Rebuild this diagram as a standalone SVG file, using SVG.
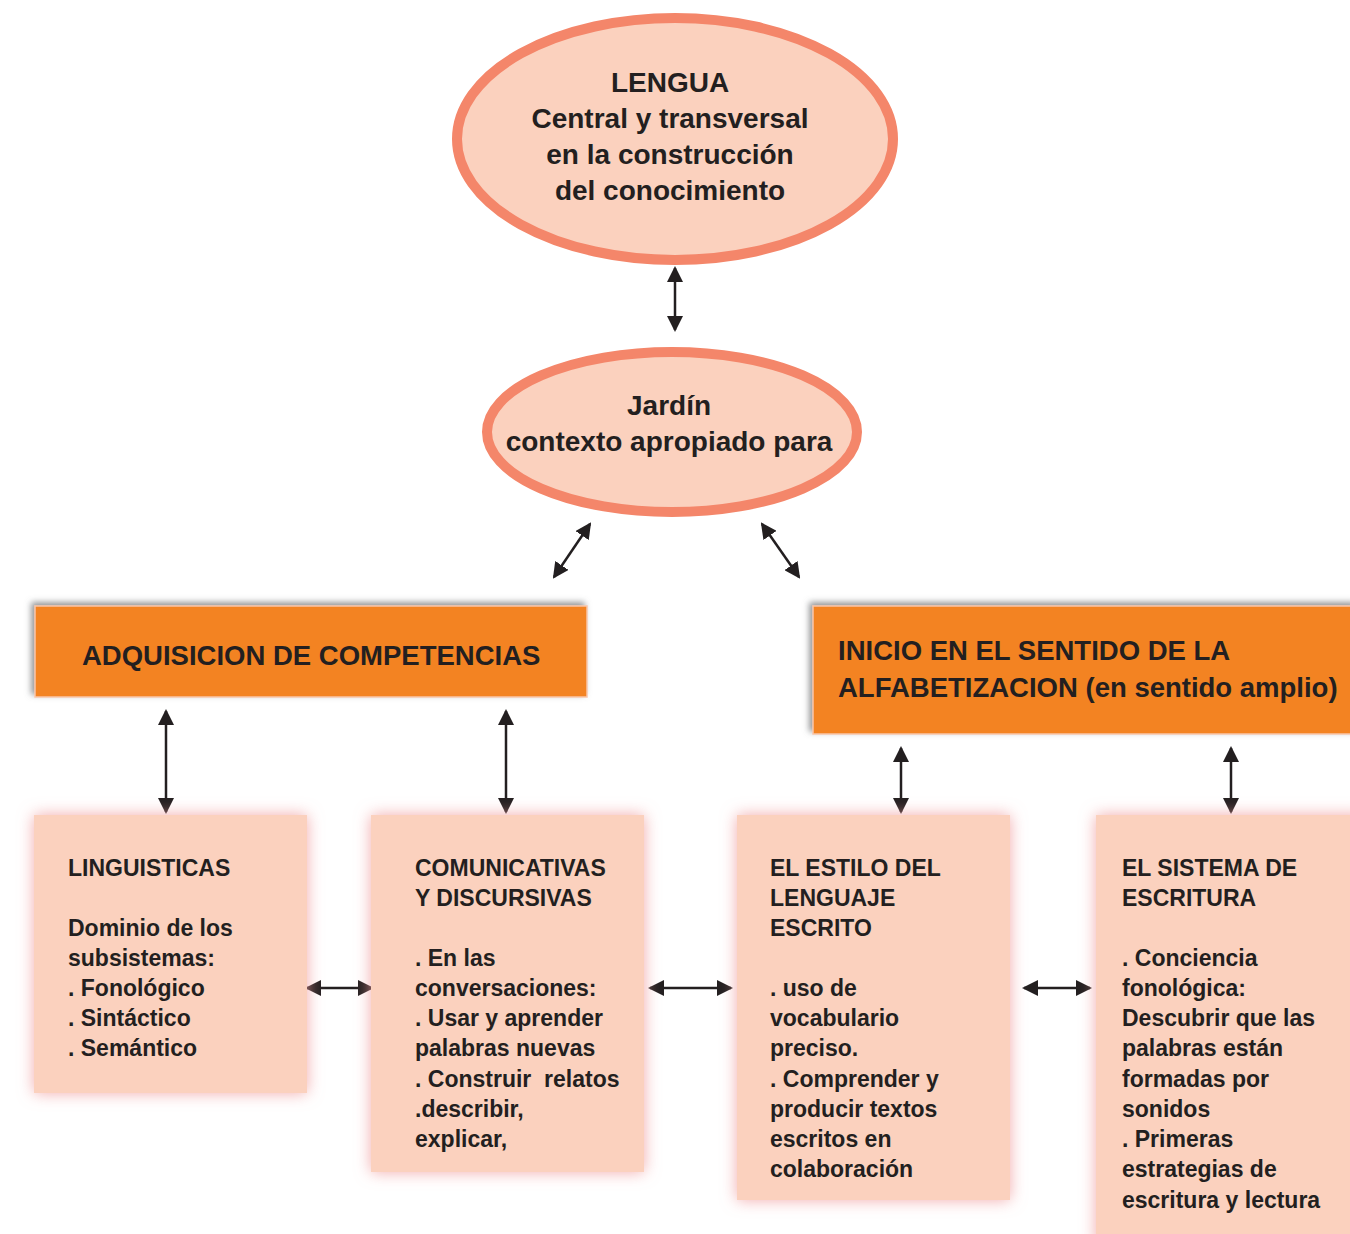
<svg xmlns="http://www.w3.org/2000/svg" width="1350" height="1234" viewBox="0 0 1350 1234">
<defs>
<style>
text{font-family:"Liberation Sans",Arial,sans-serif;font-weight:bold;fill:#231f20}
.ell{fill:#fbd1be;stroke:#f4866a;stroke-width:10}
.et{font-size:28px;text-anchor:middle}
.ob{fill:#f38322;stroke:#f9c6aa;stroke-width:1.5;filter:url(#gshadow)}
.obt{font-size:27.5px}
.pb{fill:#fbd1be;filter:url(#pglow)}
.pt{font-size:23px}
.con line{stroke:#231f20;stroke-width:2.5;marker-start:url(#ah);marker-end:url(#ah)}
</style>
<marker id="ah" viewBox="0 0 16 16" refX="14" refY="8" markerWidth="16" markerHeight="16" markerUnits="userSpaceOnUse" orient="auto-start-reverse">
<path d="M0,0 L16,8 L0,16 Z" fill="#231f20"/>
</marker>
<filter id="gshadow" x="-10%" y="-30%" width="120%" height="160%">
<feDropShadow dx="-3" dy="-3" stdDeviation="3" flood-color="#6d6e71" flood-opacity="0.75"/>
</filter>
<filter id="pglow" x="-20%" y="-20%" width="140%" height="140%">
<feDropShadow dx="0" dy="0" stdDeviation="8" flood-color="#f09a9c" flood-opacity="0.85"/>
</filter>
</defs>
<rect width="1350" height="1234" fill="#ffffff"/>

<g class="con">
<line x1="675" y1="268" x2="675" y2="330"/>
<line x1="590" y1="524" x2="554" y2="577"/>
<line x1="762" y1="524" x2="799" y2="577"/>
<line x1="166" y1="711" x2="166" y2="812"/>
<line x1="506" y1="711" x2="506" y2="812"/>
<line x1="901" y1="748" x2="901" y2="812"/>
<line x1="1231" y1="748" x2="1231" y2="812"/>
<line x1="307" y1="988" x2="372" y2="988"/>
<line x1="650" y1="988" x2="731" y2="988"/>
<line x1="1024" y1="988" x2="1090" y2="988"/>
</g>

<g id="lengua">
<ellipse class="ell" cx="675" cy="139" rx="218" ry="121"/>
<text class="et" x="670" y="92">LENGUA</text>
<text class="et" x="670" y="128">Central y transversal</text>
<text class="et" x="670" y="164">en la construcción</text>
<text class="et" x="670" y="200">del conocimiento</text>
</g>

<g id="jardin">
<ellipse class="ell" cx="672" cy="432" rx="185" ry="80"/>
<text class="et" x="669" y="415">Jardín</text>
<text class="et" x="669" y="451">contexto apropiado para</text>
</g>

<g id="adquisicion">
<rect class="ob" x="35" y="606" width="552" height="91"/>
<text class="obt" x="82" y="665">ADQUISICION DE COMPETENCIAS</text>
</g>

<g id="inicio">
<rect class="ob" x="813" y="606" width="545" height="128"/>
<text class="obt" x="838" y="660">INICIO EN EL SENTIDO DE LA</text>
<text class="obt" x="838" y="697">ALFABETIZACION (en sentido amplio)</text>
</g>

<g id="linguisticas">
<rect class="pb" x="34" y="815" width="273" height="278"/>
<text class="pt" x="68" y="876">LINGUISTICAS</text>
<text class="pt" x="68" y="936">Dominio de los</text>
<text class="pt" x="68" y="966">subsistemas:</text>
<text class="pt" x="68" y="996">. Fonológico</text>
<text class="pt" x="68" y="1026">. Sintáctico</text>
<text class="pt" x="68" y="1056">. Semántico</text>
</g>

<g id="comunicativas">
<rect class="pb" x="371" y="815" width="273" height="357"/>
<text class="pt" x="415" y="876">COMUNICATIVAS</text>
<text class="pt" x="415" y="906">Y DISCURSIVAS</text>
<text class="pt" x="415" y="966">. En las</text>
<text class="pt" x="415" y="996">conversaciones:</text>
<text class="pt" x="415" y="1026">. Usar y aprender</text>
<text class="pt" x="415" y="1056">palabras nuevas</text>
<text class="pt" x="415" y="1087" xml:space="preserve">. Construir  relatos</text>
<text class="pt" x="415" y="1117">.describir,</text>
<text class="pt" x="415" y="1147">explicar,</text>
</g>

<g id="estilo">
<rect class="pb" x="737" y="815" width="273" height="385"/>
<text class="pt" x="770" y="876">EL ESTILO DEL</text>
<text class="pt" x="770" y="906">LENGUAJE</text>
<text class="pt" x="770" y="936">ESCRITO</text>
<text class="pt" x="770" y="996">. uso de</text>
<text class="pt" x="770" y="1026">vocabulario</text>
<text class="pt" x="770" y="1056">preciso.</text>
<text class="pt" x="770" y="1087">. Comprender y</text>
<text class="pt" x="770" y="1117">producir textos</text>
<text class="pt" x="770" y="1147">escritos en</text>
<text class="pt" x="770" y="1177">colaboración</text>
</g>

<g id="sistema">
<rect class="pb" x="1096" y="815" width="270" height="430"/>
<text class="pt" x="1122" y="876">EL SISTEMA DE</text>
<text class="pt" x="1122" y="906">ESCRITURA</text>
<text class="pt" x="1122" y="966">. Conciencia</text>
<text class="pt" x="1122" y="996">fonológica:</text>
<text class="pt" x="1122" y="1026">Descubrir que las</text>
<text class="pt" x="1122" y="1056">palabras están</text>
<text class="pt" x="1122" y="1087">formadas por</text>
<text class="pt" x="1122" y="1117">sonidos</text>
<text class="pt" x="1122" y="1147">. Primeras</text>
<text class="pt" x="1122" y="1177">estrategias de</text>
<text class="pt" x="1122" y="1208">escritura y lectura</text>
</g>
</svg>
